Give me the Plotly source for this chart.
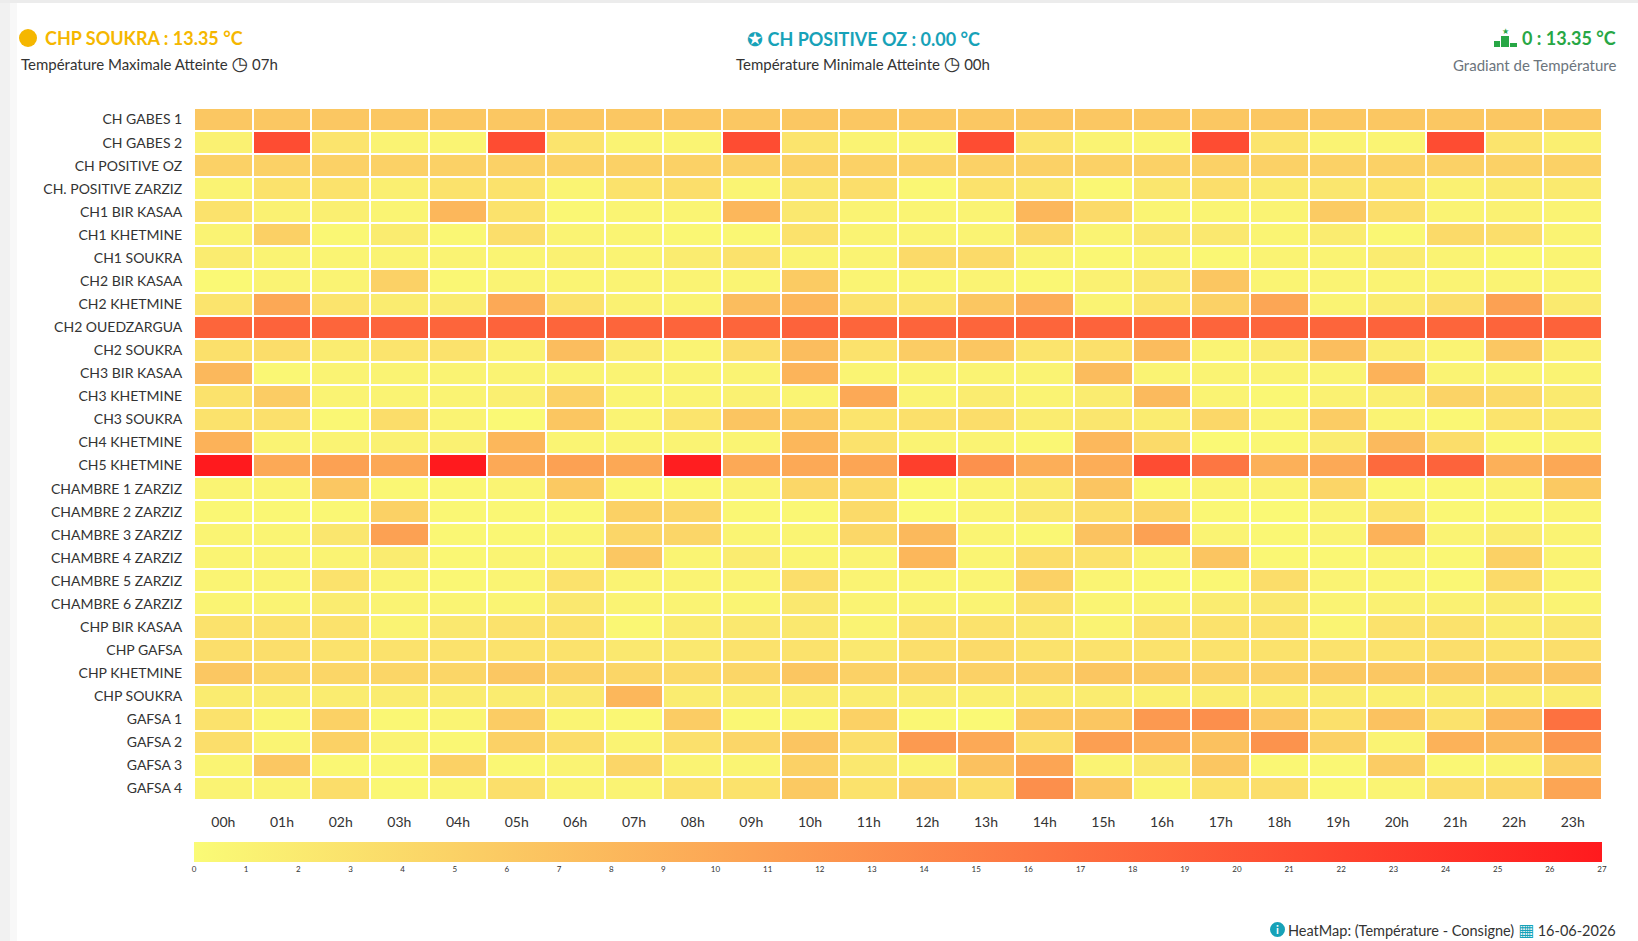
import plotly.graph_objects as go

hours = ["00h", "01h", "02h", "03h", "04h", "05h", "06h", "07h", "08h", "09h", "10h", "11h",
         "12h", "13h", "14h", "15h", "16h", "17h", "18h", "19h", "20h", "21h", "22h", "23h"]

stations = ["CH GABES 1", "CH GABES 2", "CH POSITIVE OZ", "CH. POSITIVE ZARZIZ",
            "CH1 BIR KASAA", "CH1 KHETMINE", "CH1 SOUKRA", "CH2 BIR KASAA", "CH2 KHETMINE",
            "CH2 OUEDZARGUA", "CH2 SOUKRA", "CH3 BIR KASAA", "CH3 KHETMINE", "CH3 SOUKRA",
            "CH4 KHETMINE", "CH5 KHETMINE", "CHAMBRE 1 ZARZIZ", "CHAMBRE 2 ZARZIZ",
            "CHAMBRE 3 ZARZIZ", "CHAMBRE 4 ZARZIZ", "CHAMBRE 5 ZARZIZ", "CHAMBRE 6 ZARZIZ",
            "CHP BIR KASAA", "CHP GAFSA", "CHP KHETMINE", "CHP SOUKRA",
            "GAFSA 1", "GAFSA 2", "GAFSA 3", "GAFSA 4"]

# ecart temperature - consigne, par heure
ch_gabes_1 = [6.2, 6.2, 6.2, 6.2, 6.2, 6.2, 6.2, 6.2, 6.2, 6.2, 6.2, 6.2, 6.2, 6.2, 6.2, 6.2, 6.2, 6.2, 6.2, 6.2, 6.2, 6.2, 6.2, 6.2]
ch_gabes_2 = [1.2, 21.0, 2.8, 1.0, 0.8, 21.0, 2.8, 1.0, 0.8, 21.0, 2.8, 1.0, 0.8, 21.0, 2.8, 1.0, 0.8, 21.0, 2.8, 1.0, 0.8, 21.0, 2.8, 1.5]
ch_positive_oz = [5.0, 5.0, 5.0, 5.0, 5.0, 5.0, 5.0, 5.0, 5.0, 5.0, 5.0, 5.0, 5.0, 5.0, 5.0, 5.0, 5.0, 5.0, 5.0, 5.0, 5.0, 5.0, 5.0, 5.0]
ch_positive_zarziz = [1.0, 3.0, 3.0, 1.5, 3.0, 3.0, 0.8, 3.0, 3.5, 0.8, 2.5, 3.5, 0.5, 3.0, 2.5, 0.5, 2.5, 3.5, 2.0, 2.5, 3.0, 1.2, 2.0, 2.0]
ch1_bir_kasaa = [3.0, 1.2, 1.5, 0.8, 8.2, 3.0, 0.5, 0.8, 0.8, 8.2, 2.3, 1.0, 0.8, 1.0, 8.2, 4.0, 0.8, 0.8, 1.0, 5.8, 3.5, 1.0, 1.2, 1.0]
ch1_khetmine = [1.0, 5.2, 0.5, 1.8, 0.5, 3.5, 1.0, 0.8, 0.5, 0.5, 3.0, 1.0, 1.0, 1.0, 4.3, 1.0, 2.3, 2.3, 0.8, 1.8, 0.5, 4.0, 3.5, 1.0]
ch1_soukra = [1.8, 1.0, 0.8, 1.0, 1.0, 0.8, 1.2, 1.0, 1.8, 3.0, 1.0, 1.0, 4.0, 4.0, 1.0, 0.5, 1.0, 0.5, 1.0, 1.0, 1.8, 1.0, 0.5, 0.8]
ch2_bir_kasaa = [0.3, 1.0, 1.0, 5.0, 0.5, 1.0, 0.8, 1.0, 1.0, 0.8, 5.8, 0.8, 0.8, 1.0, 0.5, 1.2, 2.3, 6.3, 0.8, 1.0, 1.0, 1.0, 1.0, 1.0]
ch2_khetmine = [2.8, 10.0, 2.8, 1.8, 1.8, 9.8, 3.0, 1.2, 1.0, 7.4, 8.2, 3.0, 3.0, 6.3, 9.3, 1.0, 2.8, 5.0, 10.2, 1.0, 1.8, 3.5, 10.8, 2.0]
ch2_ouedzargua = [18.0, 18.2, 18.0, 18.1, 18.0, 18.2, 18.0, 18.0, 18.1, 18.0, 18.2, 18.0, 18.1, 18.0, 18.0, 18.2, 18.0, 18.1, 18.0, 18.0, 18.2, 18.0, 18.1, 18.3]
ch2_soukra = [3.3, 3.6, 1.8, 2.8, 3.0, 1.2, 7.4, 1.8, 1.0, 3.5, 7.4, 3.0, 5.6, 6.3, 2.8, 3.3, 7.6, 1.0, 1.8, 7.3, 1.8, 1.0, 6.2, 1.5]
ch3_bir_kasaa = [8.0, 0.5, 1.0, 1.0, 1.0, 1.0, 1.0, 1.0, 1.0, 1.0, 8.5, 0.8, 1.0, 1.0, 1.0, 7.6, 1.0, 1.0, 1.0, 1.0, 8.8, 1.0, 1.0, 1.0]
ch3_khetmine = [3.0, 5.6, 1.0, 1.0, 1.0, 1.5, 5.0, 0.8, 1.0, 1.2, 0.8, 9.9, 1.0, 1.8, 1.0, 1.8, 7.8, 1.0, 0.5, 1.2, 1.5, 4.8, 4.0, 2.0]
ch3_soukra = [3.0, 3.2, 0.5, 3.6, 1.0, 0.3, 6.3, 1.0, 2.8, 6.5, 6.0, 2.8, 3.3, 3.6, 1.8, 2.5, 1.8, 4.3, 1.0, 5.6, 1.0, 0.5, 2.8, 2.0]
ch4_khetmine = [8.8, 1.0, 1.0, 1.2, 1.2, 8.2, 0.8, 0.8, 1.0, 0.8, 8.2, 3.0, 1.0, 1.0, 0.5, 8.1, 4.0, 0.3, 0.5, 1.8, 7.8, 3.6, 0.5, 1.0]
ch5_khetmine = [27.0, 9.8, 10.8, 10.0, 27.0, 9.9, 10.8, 10.0, 26.5, 9.9, 9.9, 10.3, 22.6, 12.7, 9.2, 9.4, 21.0, 16.0, 9.0, 9.8, 17.4, 18.2, 9.0, 10.0]
chambre_1_zarziz = [0.8, 0.8, 6.2, 0.5, 0.5, 0.8, 6.0, 0.5, 0.5, 1.0, 4.3, 4.0, 0.3, 0.8, 1.8, 6.5, 0.5, 0.8, 1.0, 4.6, 0.5, 0.5, 1.0, 6.0]
chambre_2_zarziz = [0.5, 0.5, 0.5, 5.1, 0.5, 0.5, 0.5, 5.1, 4.4, 0.5, 0.5, 4.0, 0.3, 0.8, 2.3, 3.5, 4.6, 0.5, 0.3, 1.0, 3.0, 0.5, 0.5, 0.8]
chambre_3_zarziz = [0.8, 0.8, 2.5, 10.8, 0.5, 0.5, 0.8, 4.4, 4.4, 0.8, 0.8, 4.3, 7.9, 0.8, 0.5, 6.8, 10.8, 1.0, 0.5, 1.0, 8.8, 1.0, 1.8, 1.0]
chambre_4_zarziz = [0.8, 1.0, 1.0, 1.8, 0.5, 0.8, 1.0, 6.2, 0.8, 1.8, 0.8, 1.0, 8.2, 0.8, 3.6, 3.0, 1.0, 6.5, 0.5, 0.5, 0.8, 0.5, 5.1, 1.0]
chambre_5_zarziz = [0.8, 1.0, 3.0, 1.0, 0.5, 0.8, 3.0, 1.0, 1.0, 1.0, 3.5, 1.0, 0.8, 0.8, 5.1, 0.8, 0.5, 0.5, 3.6, 1.0, 0.8, 0.5, 4.0, 1.0]
chambre_6_zarziz = [0.8, 1.0, 1.8, 1.0, 0.8, 0.8, 2.3, 1.0, 1.0, 0.8, 2.3, 1.0, 1.0, 1.0, 3.0, 0.8, 1.0, 1.8, 2.3, 1.0, 1.2, 1.2, 1.8, 1.0]
chp_bir_kasaa = [3.0, 3.0, 3.0, 1.0, 2.3, 3.0, 3.0, 0.5, 1.8, 2.3, 2.3, 1.0, 3.0, 3.0, 2.3, 1.0, 3.0, 3.0, 3.0, 0.8, 3.0, 3.0, 1.8, 2.3]
chp_gafsa = [3.5, 3.5, 3.0, 3.0, 3.0, 3.0, 3.0, 2.3, 2.3, 3.0, 3.0, 2.3, 3.5, 4.0, 3.0, 3.0, 3.0, 3.0, 3.0, 3.0, 3.0, 3.5, 3.0, 3.5]
chp_khetmine = [6.2, 4.5, 4.5, 4.5, 4.5, 6.2, 5.1, 4.5, 4.0, 4.5, 6.3, 5.0, 5.0, 5.0, 5.0, 6.3, 6.0, 5.0, 5.0, 6.0, 6.2, 6.2, 6.2, 6.5]
chp_soukra = [1.8, 1.8, 1.8, 1.8, 1.8, 1.8, 2.3, 8.2, 1.8, 1.8, 1.8, 1.8, 1.8, 1.5, 1.8, 1.8, 1.5, 1.8, 1.8, 1.8, 1.5, 1.8, 1.8, 1.8]
gafsa_1 = [3.0, 0.8, 5.1, 0.5, 0.8, 5.6, 0.8, 0.5, 5.6, 0.5, 0.8, 5.1, 0.5, 0.3, 6.0, 6.3, 11.8, 12.9, 6.2, 3.3, 6.8, 3.0, 7.9, 16.5]
gafsa_2 = [3.5, 0.8, 5.1, 1.0, 0.5, 5.0, 3.6, 1.0, 3.2, 4.4, 6.5, 3.5, 11.7, 9.8, 3.6, 11.1, 9.2, 7.0, 12.5, 5.1, 1.0, 8.8, 7.7, 12.0]
gafsa_3 = [0.8, 6.2, 0.5, 0.5, 5.1, 0.5, 1.0, 4.4, 1.0, 0.8, 5.0, 2.3, 1.0, 7.0, 10.3, 1.0, 2.3, 6.3, 0.5, 0.5, 5.6, 0.5, 0.8, 5.0]
gafsa_4 = [1.0, 1.0, 3.6, 0.5, 0.8, 3.4, 1.0, 1.0, 3.0, 3.0, 6.0, 3.0, 5.0, 3.5, 13.0, 6.3, 0.8, 3.0, 3.5, 0.5, 0.8, 3.5, 4.3, 10.3]

# resume en tete
max_station, max_temp, max_hour = "CHP SOUKRA", 13.35, "07h"
min_station, min_temp, min_hour = "CH POSITIVE OZ", 0.00, "00h"
grad_from, grad_value = "0", 13.35
report_date = "16-06-2026"

z = [ch_gabes_1, ch_gabes_2, ch_positive_oz, ch_positive_zarziz, ch1_bir_kasaa, ch1_khetmine,
     ch1_soukra, ch2_bir_kasaa, ch2_khetmine, ch2_ouedzargua, ch2_soukra, ch3_bir_kasaa,
     ch3_khetmine, ch3_soukra, ch4_khetmine, ch5_khetmine, chambre_1_zarziz, chambre_2_zarziz,
     chambre_3_zarziz, chambre_4_zarziz, chambre_5_zarziz, chambre_6_zarziz, chp_bir_kasaa,
     chp_gafsa, chp_khetmine, chp_soukra, gafsa_1, gafsa_2, gafsa_3, gafsa_4]

W, H = 1638, 941
L, R, T, B = 194, 36, 108, 141
FONT = "Lato, 'DejaVu Sans', sans-serif"


def fx(px):
    return (px - L) / (W - L - R)


def fy(py):
    return (H - B - py) / (H - T - B)


fig = go.Figure(
    go.Heatmap(
        z=z,
        x=hours,
        y=stations,
        zmin=0,
        zmax=27,
        colorscale=[[0, "#fafb76"], [1, "#ff1a1e"]],
        xgap=2,
        ygap=2,
        colorbar=dict(
            orientation="h",
            x=0.5,
            xanchor="center",
            y=fy(842),
            yanchor="top",
            len=1,
            lenmode="fraction",
            thickness=20,
            xpad=0,
            ypad=0,
            outlinewidth=0,
            tick0=0,
            dtick=1,
            ticks="",
            tickfont=dict(size=8, color="#333", family=FONT),
        ),
    )
)

fig.update_xaxes(
    showgrid=False, zeroline=False, showline=False,
    ticks="outside", ticklen=9, tickcolor="rgba(0,0,0,0)",
    tickfont=dict(size=14, color="#333", family=FONT),
)
fig.update_yaxes(
    autorange="reversed", showgrid=False, zeroline=False, showline=False,
    ticks="outside", ticklen=8, tickcolor="rgba(0,0,0,0)",
    tickfont=dict(size=14, color="#333", family=FONT),
)

yellow = "#f5b700"
teal = "#17a2b8"
green = "#28a745"
clock = "<span style='font-size:19px'>◷</span>"

annotations = [
    dict(x=fx(43), y=fy(38), xanchor="left",
         text=f"<b>{max_station} : {max_temp:.2f} °C</b>",
         font=dict(size=18, color=yellow)),
    dict(x=fx(19), y=fy(63), xanchor="left",
         text=f"Température Maximale Atteinte {clock} {max_hour}",
         font=dict(size=15, color="#333")),
    dict(x=fx(863), y=fy(38), xanchor="center",
         text=f"<span style='font-size:19px'>✪</span> <b>{min_station} : {min_temp:.2f} °C</b>",
         font=dict(size=18, color=teal)),
    dict(x=fx(863), y=fy(63), xanchor="center",
         text=f"Température Minimale Atteinte {clock} {min_hour}",
         font=dict(size=15, color="#333")),
    dict(x=fx(1618), y=fy(38), xanchor="right",
         text=f"<b>{grad_from} : {grad_value:.2f} °C</b>",
         font=dict(size=18, color=green)),
    dict(x=fx(1505), y=fy(31), xanchor="center",
         text="★", font=dict(size=8, color=green)),
    dict(x=fx(1618), y=fy(65), xanchor="right",
         text="Gradiant de Température",
         font=dict(size=15, color="#6c757d")),
    dict(x=fx(1277.5), y=fy(929.5), xanchor="center",
         text="<b>i</b>", font=dict(size=11, color="white")),
    dict(x=fx(1618), y=fy(929), xanchor="right",
         text=(f"HeatMap: (Température - Consigne) "
               f"<span style='color:{teal};font-size:17px'>▦</span> {report_date}"),
         font=dict(size=14.5, color="#333")),
]
for a in annotations:
    a.update(xref="paper", yref="paper", yanchor="middle", showarrow=False)
    a["font"]["family"] = FONT

shapes = [
    # bord de la carte
    dict(type="rect", x0=fx(0), x1=fx(W), y0=fy(3), y1=fy(0), fillcolor="#ececec", line_width=0),
    dict(type="rect", x0=fx(0), x1=fx(10), y0=fy(H), y1=fy(3), fillcolor="#f1f1f1", line_width=0),
    dict(type="rect", x0=fx(10), x1=fx(17), y0=fy(H), y1=fy(3), fillcolor="#f8f8f8", line_width=0),
    # icone jauge
    dict(type="circle", x0=fx(19), x1=fx(37), y0=fy(47), y1=fy(29), fillcolor=yellow, line_width=0),
    # icone podium
    dict(type="rect", x0=fx(1494), x1=fx(1500), y0=fy(47), y1=fy(41), fillcolor=green, line_width=0),
    dict(type="rect", x0=fx(1501), x1=fx(1509), y0=fy(47), y1=fy(36), fillcolor=green, line_width=0),
    dict(type="rect", x0=fx(1510), x1=fx(1517), y0=fy(47), y1=fy(43), fillcolor=green, line_width=0),
    # icone info
    dict(type="circle", x0=fx(1270), x1=fx(1285), y0=fy(937), y1=fy(922), fillcolor=teal, line_width=0),
]
for s in shapes:
    s.update(xref="paper", yref="paper", layer="below")

fig.update_layout(
    width=W,
    height=H,
    margin=dict(l=L, r=R, t=T, b=B),
    paper_bgcolor="white",
    plot_bgcolor="white",
    font=dict(family=FONT, color="#333"),
    annotations=annotations,
    shapes=shapes,
)

fig.write_html(
    "out.html",
    config={"displayModeBar": False},
    post_script="document.body.style.margin='0';document.body.style.overflow='hidden';",
)
